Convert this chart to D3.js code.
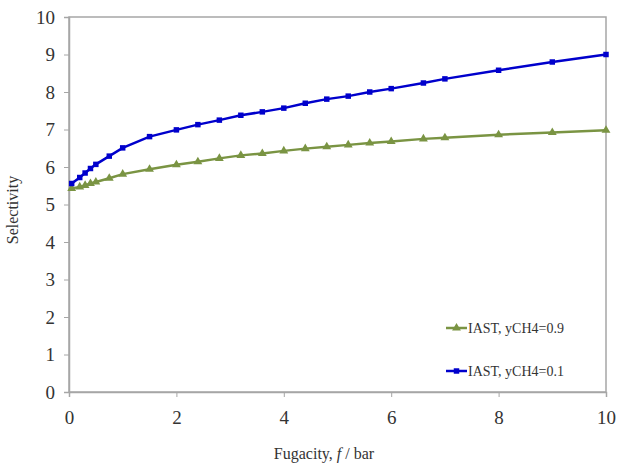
<!DOCTYPE html>
<html>
<head>
<meta charset="utf-8">
<script src="https://cdn.jsdelivr.net/npm/d3@7"></script>
<style>
  body { margin: 0; background: #fff; }
  svg text { font-family: "Liberation Serif", "DejaVu Serif", serif; }
</style>
</head>
<body>
<div id="chart"></div>
<script>
// fugacity values (bar)
const fugacity = [0.05, 0.2, 0.3, 0.4, 0.5, 0.75, 1, 1.5, 2, 2.4, 2.8, 3.2, 3.6, 4, 4.4, 4.8, 5.2, 5.6, 6, 6.6, 7, 8, 9, 10];
// selectivity, yCH4 = 0.9
const selCH4_09 = [5.43, 5.47, 5.51, 5.56, 5.6, 5.7, 5.81, 5.94, 6.06, 6.14, 6.23, 6.31, 6.36, 6.43, 6.49, 6.54, 6.59, 6.64, 6.68, 6.75, 6.78, 6.86, 6.92, 6.98];
// selectivity, yCH4 = 0.1
const selCH4_01 = [5.56, 5.72, 5.84, 5.96, 6.07, 6.29, 6.51, 6.81, 6.99, 7.13, 7.25, 7.38, 7.47, 7.57, 7.7, 7.81, 7.89, 8.0, 8.09, 8.24, 8.35, 8.58, 8.8, 9.0];
const xTicks = [0, 2, 4, 6, 8, 10];
const yTicks = [0, 1, 2, 3, 4, 5, 6, 7, 8, 9, 10];

const series = [
  { name: "IAST, yCH4=0.9", values: selCH4_09, color: "#7a9443", marker: "triangle" },
  { name: "IAST, yCH4=0.1", values: selCH4_01, color: "#0000cc", marker: "square" },
];

const width = 618, height = 465;
const margin = { top: 17, right: 12, bottom: 73, left: 69 };
const w = width - margin.left - margin.right,
  h = height - margin.top - margin.bottom;

const svg = d3.select("#chart").append("svg")
  .attr("width", width)
  .attr("height", height);

const g = svg.append("g").attr("transform", `translate(${margin.left},${margin.top})`);

const x = d3.scaleLinear().domain([0, 10]).range([0, w]);
const y = d3.scaleLinear().domain([0, 10]).range([h, 0]);

const axisColor = "#a6a6a6";

// frame (top and right edges)
g.append("rect")
  .attr("width", w).attr("height", h)
  .attr("fill", "none")
  .attr("stroke", axisColor)
  .attr("stroke-width", 1.5);

const xAxis = g.append("g")
  .attr("transform", `translate(0,${h})`)
  .call(d3.axisBottom(x).tickValues(xTicks).tickSize(5).tickPadding(14));
const yAxis = g.append("g")
  .call(d3.axisLeft(y).tickValues(yTicks).tickSize(5).tickPadding(9));

[xAxis, yAxis].forEach(a => {
  a.selectAll(".domain").attr("stroke", axisColor).attr("stroke-width", 1.5);
  a.selectAll(".tick line").attr("stroke", axisColor);
  a.selectAll("text")
    .attr("font-size", 19)
    .attr("fill", "#333");
});

// axis titles
const xTitle = svg.append("text")
  .attr("x", 324)
  .attr("y", 459)
  .attr("text-anchor", "middle")
  .attr("font-size", 16)
  .attr("fill", "#333");
xTitle.append("tspan").text("Fugacity, ");
xTitle.append("tspan").attr("font-style", "italic").text("f");
xTitle.append("tspan").text(" / bar");

svg.append("text")
  .attr("transform", "translate(18,210) rotate(-90)")
  .attr("text-anchor", "middle")
  .attr("font-size", 16)
  .attr("fill", "#333")
  .text("Selectivity");

const line = d3.line()
  .x((d, i) => x(fugacity[i]))
  .y(d => y(d));

const tri = d3.symbol().type(d3.symbolTriangle).size(34);
const sq = d3.symbol().type(d3.symbolSquare).size(30);

series.forEach(s => {
  g.append("path")
    .datum(s.values)
    .attr("fill", "none")
    .attr("stroke", s.color)
    .attr("stroke-width", 2.5)
    .attr("d", line);

  g.selectAll(null)
    .data(s.values)
    .join("path")
    .attr("transform", (d, i) => `translate(${x(fugacity[i])},${y(d)})`)
    .attr("d", s.marker === "triangle" ? tri : sq)
    .attr("fill", s.color);
});

// legend
const legend = svg.append("g").attr("transform", "translate(446,328)");
series.forEach((s, i) => {
  const row = legend.append("g").attr("transform", `translate(0,${i * 43})`);
  row.append("line")
    .attr("x1", 0).attr("x2", 21)
    .attr("stroke", s.color).attr("stroke-width", 2.5);
  row.append("path")
    .attr("transform", "translate(10.5,0)")
    .attr("d", s.marker === "triangle" ? tri : sq)
    .attr("fill", s.color);
  row.append("text")
    .attr("x", 22).attr("y", 5)
    .attr("font-size", 14)
    .attr("fill", "#333")
    .text(s.name);
});
</script>
</body>
</html>
